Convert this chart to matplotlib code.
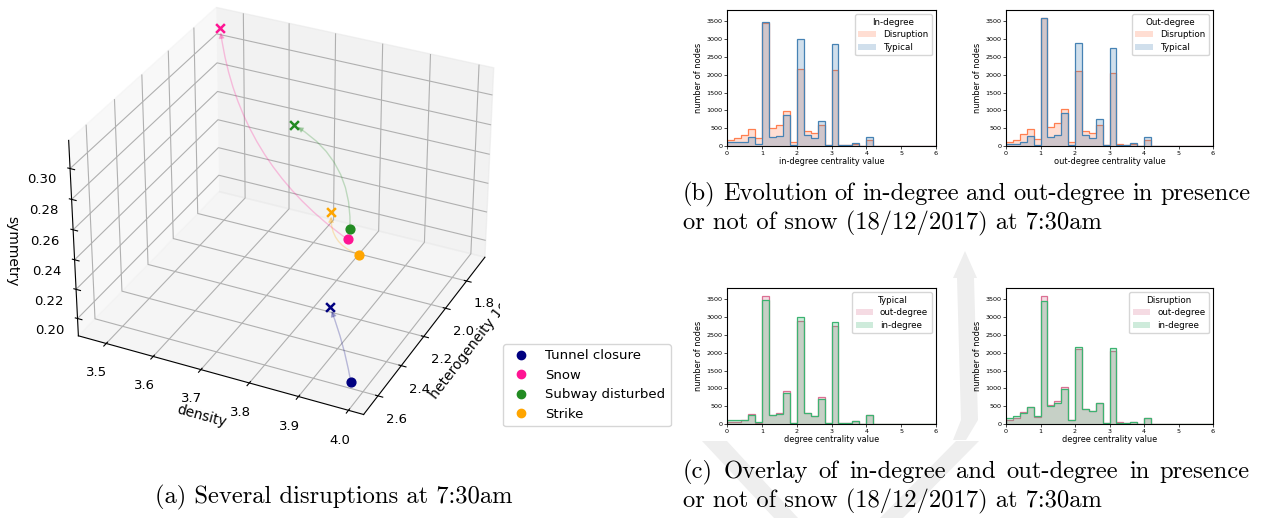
import numpy as np
import matplotlib
matplotlib.use("Agg")
import matplotlib.pyplot as plt
from matplotlib.patches import FancyArrowPatch, Patch, Polygon
from matplotlib.lines import Line2D
from matplotlib.colors import to_rgba
from matplotlib.ticker import FuncFormatter
from matplotlib.transforms import Bbox, TransformedBbox
from mpl_toolkits.mplot3d import proj3d

# ---------------- data ----------------
events = ["Tunnel closure", "Snow", "Subway disturbed", "Strike"]
event_colors = ["navy", "deeppink", "forestgreen", "orange"]
typ_density = [3.98, 3.87, 3.886, 3.918]
typ_heterogeneity = [2.62e-10, 2.20e-10, 2.25e-10, 2.30e-10]
typ_symmetry = [0.195, 0.241, 0.254, 0.244]
dis_density = [3.92, 3.47, 3.732, 3.848]
dis_heterogeneity = [2.55e-10, 1.70e-10, 2.10e-10, 2.25e-10]
dis_symmetry = [0.233, 0.312, 0.298, 0.262]
arc_rad = [0.05, -0.22, 0.3, -0.4]

bin_edges = np.linspace(0, 6, 31)
in_disruption = [180, 220, 320, 470, 230, 3450, 500, 600, 970, 110, 2150, 420, 370, 600, 30,
                 2130, 30, 20, 50, 0, 180, 0, 0, 0, 0, 10, 0, 0, 0, 0]
in_typical = [100, 110, 110, 250, 60, 3480, 250, 280, 880, 30, 3000, 310, 230, 700, 20,
              2870, 30, 20, 80, 0, 250, 0, 0, 0, 0, 10, 0, 0, 0, 0]
out_disruption = [110, 170, 350, 470, 200, 3600, 530, 640, 1040, 110, 2100, 430, 370, 600, 30,
                  2040, 60, 20, 50, 0, 180, 0, 0, 0, 0, 10, 0, 0, 0, 0]
out_typical = [50, 60, 120, 280, 40, 3600, 240, 310, 940, 40, 2900, 310, 230, 770, 20,
               2760, 30, 20, 80, 0, 260, 0, 0, 0, 0, 10, 0, 0, 0, 0]

W, H = 1273, 518
fig = plt.figure(figsize=(W / 100, H / 100), dpi=100)


def px(x0, y0, x1, y1):
    return [x0 / W, 1 - y1 / H, (x1 - x0) / W, (y1 - y0) / H]


def fpt(x, y):
    return (x / W, 1 - y / H)


# ---------------- faint watermark ----------------
WM = "#eeeeee"
wm_shapes = [
    [(953, 278), (977, 278), (965, 251)],
    [(957, 278), (974, 278), (978, 420), (966, 440), (953, 440), (961, 420)],
    [(956, 441), (979, 441), (903, 518), (880, 518)],
    [(702, 441), (727, 441), (798, 518), (774, 518)],
]
for shp in wm_shapes:
    fig.patches.append(Polygon([fpt(*p) for p in shp], closed=True, facecolor=WM,
                               edgecolor="none", transform=fig.transFigure, zorder=-5))


# ---------------- 3D plot ----------------
class Arrow3D(FancyArrowPatch):
    def __init__(self, xs, ys, zs, *args, **kwargs):
        super().__init__((0, 0), (0, 0), *args, **kwargs)
        self._verts3d = xs, ys, zs

    def do_3d_projection(self, renderer=None):
        xs3d, ys3d, zs3d = self._verts3d
        xs, ys, zs = proj3d.proj_transform(xs3d, ys3d, zs3d, self.axes.M)
        self.set_positions((xs[0], ys[0]), (xs[1], ys[1]))
        return np.min(zs)


ax3 = fig.add_axes(px(0, -32, 560, 448), projection="3d")
ax3.patch.set_alpha(0)
ax3.set_box_aspect((4, 4, 2.88))
ax3.view_init(elev=31, azim=-64.5)
ax3.set_xlim(3.44, 4.03)
ax3.set_ylim(2.72e-10, 1.62e-10)
ax3.set_zlim(0.188, 0.318)
ax3.set_xticks([3.5, 3.6, 3.7, 3.8, 3.9, 4.0])
ax3.set_yticks([1.8e-10, 2.0e-10, 2.2e-10, 2.4e-10, 2.6e-10])
ax3.set_zticks([0.20, 0.22, 0.24, 0.26, 0.28, 0.30])
ax3.yaxis.set_major_formatter(FuncFormatter(lambda v, p: f"{v / 1e-10:.1f}"))
ax3.tick_params(labelsize=9.5)
ax3.zaxis.set_ticks_position("upper")
ax3.zaxis.set_label_position("upper")
ax3.set_xlabel("density", fontsize=10, labelpad=0)
ax3.set_ylabel(" " * 14 + "heterogeneity 1e\u221210", fontsize=10, labelpad=0)
ax3.zaxis.set_rotate_label(False)
ax3.set_zlabel("symmetry", fontsize=10, rotation=-90)

clipbox = TransformedBbox(Bbox([[0, 0], [500 / W, 1]]), fig.transFigure)
ax3.yaxis.label.set_clip_box(clipbox)
ax3.yaxis.label.set_clip_on(True)

for i, ev in enumerate(events):
    c = event_colors[i]
    ax3.scatter([typ_density[i]], [typ_heterogeneity[i]], [typ_symmetry[i]], color=c,
                marker="o", s=40, depthshade=False, label=ev)
    ax3.scatter([dis_density[i]], [dis_heterogeneity[i]], [dis_symmetry[i]], color=c,
                marker="x", s=40, linewidths=1.8, depthshade=False)
    arr = Arrow3D([typ_density[i], dis_density[i]],
                  [typ_heterogeneity[i], dis_heterogeneity[i]],
                  [typ_symmetry[i], dis_symmetry[i]],
                  arrowstyle="-|>", mutation_scale=8, color=c, alpha=0.25, lw=1.0,
                  connectionstyle=f"arc3,rad={arc_rad[i]}", shrinkA=3, shrinkB=3)
    ax3.add_artist(arr)

handles = [Line2D([], [], marker="o", color=c, ls="none", markersize=6) for c in event_colors]
fig.legend(handles, events, loc="upper left", bbox_to_anchor=(503 / W, 1 - 344 / H),
           fontsize=9.5, frameon=True, borderaxespad=0)

# ---------------- histograms ----------------
hist_specs = [
    (px(727, 10, 936, 146), "In-degree", "in-degree centrality value",
     [(in_disruption, "coral", "Disruption"), (in_typical, "steelblue", "Typical")]),
    (px(1006, 10, 1213, 146), "Out-degree", "out-degree centrality value",
     [(out_disruption, "coral", "Disruption"), (out_typical, "steelblue", "Typical")]),
    (px(727, 288, 936, 424), "Typical", "degree centrality value",
     [(out_typical, "palevioletred", "out-degree"), (in_typical, "mediumseagreen", "in-degree")]),
    (px(1006, 288, 1213, 424), "Disruption", "degree centrality value",
     [(out_disruption, "palevioletred", "out-degree"), (in_disruption, "mediumseagreen", "in-degree")]),
]

for rect, title, xlabel, layers in hist_specs:
    ax = fig.add_axes(rect)
    hs = []
    for vals, col, lab in layers:
        ax.stairs(vals, bin_edges, fill=True, facecolor=to_rgba(col, 0.25),
                  edgecolor=col, lw=0.9)
        hs.append(Patch(facecolor=to_rgba(col, 0.25), edgecolor="none", label=lab))
    ax.set_xlim(0, 6)
    ax.set_ylim(0, 3820)
    ax.set_xticks([0, 1, 2, 3, 4, 5, 6])
    ax.set_yticks([0, 500, 1000, 1500, 2000, 2500, 3000, 3500])
    ax.tick_params(labelsize=4.6, length=2, width=0.5, pad=1.5)
    ax.set_xlabel(xlabel, fontsize=5.9, labelpad=1)
    ax.set_ylabel("number of nodes", fontsize=5.9, labelpad=2)
    for sp in ax.spines.values():
        sp.set_linewidth(0.8)
    ax.legend(handles=hs, title=title, loc="upper right", fontsize=6.3, title_fontsize=6.3,
              handlelength=2.0, borderpad=0.4, labelspacing=0.4)

# ---------------- captions ----------------
renderer = fig.canvas.get_renderer()
CAP = dict(family="cmr10", fontsize=17.7, va="baseline")


def justified(line, x0, x1, y):
    words = line.split(" ")
    ts = [fig.text(0, 1 - y / H, w_, **CAP) for w_ in words]
    widths = [t.get_window_extent(renderer).width for t in ts]
    gap = (x1 - x0 - sum(widths)) / (len(words) - 1)
    x = x0
    for t, wd in zip(ts, widths):
        t.set_x(x / W)
        x += wd + gap


fig.text(334 / W, 1 - 503 / H, "(a) Several disruptions at 7:30am", ha="center", **CAP)
justified("(b) Evolution of in-degree and out-degree in presence", 683, 1250, 200)
fig.text(683 / W, 1 - 229 / H, "or not of snow (18/12/2017) at 7:30am", ha="left", **CAP)
justified("(c) Overlay of in-degree and out-degree in presence", 683, 1250, 478)
fig.text(683 / W, 1 - 507 / H, "or not of snow (18/12/2017) at 7:30am", ha="left", **CAP)

fig.savefig("out.png", dpi=100)
